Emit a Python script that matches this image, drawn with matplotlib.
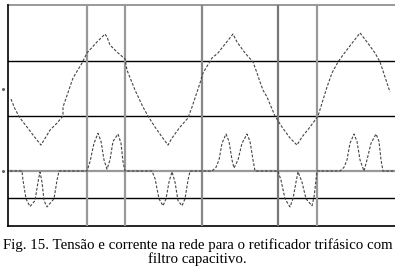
import matplotlib
matplotlib.use("Agg")
import matplotlib.pyplot as plt

# tensao na rede (V) - tempo em amostras
t_v = [3, 7, 12, 19, 25, 33, 42, 49, 55, 55, 65, 74, 79, 89, 97, 99, 102, 109, 117, 119,
       127, 135, 140, 147, 154, 160, 164, 172, 180, 184, 192, 195, 204, 210, 225, 229,
       237, 245, 249, 252, 255, 259, 267, 274, 282, 289, 294, 302, 310, 319, 324, 330,
       335, 345, 352, 359, 367, 372, 377, 382]
v = [-56, -111, -161, -211, -255, -311, -228, -189, -150, -100, 61, 144, 200, 261, 305,
     289, 244, 205, 167, 105, -6, -100, -150, -211, -266, -311, -272, -211, -161, -100,
     33, 89, 172, 200, 305, 261, 200, 150, 89, 39, -6, -44, -150, -211, -272, -311,
     -266, -211, -150, 11, 89, 150, 189, 261, 311, 261, 200, 150, 67, -17]

# corrente na rede (A)
t_i = [2, 14,
       15, 18, 22, 27, 30, 32, 34, 36, 39, 46, 49, 51, 54,
       70, 79,
       82, 86, 90, 93, 96, 99, 102, 105, 110, 113, 115, 117,
       144,
       147, 151, 155, 158, 161, 164, 167, 170, 174, 177, 180, 182,
       204,
       208, 211, 214, 218, 221, 224, 226, 230, 234, 239, 242, 245, 247,
       270,
       273, 277, 282, 285, 288, 290, 294, 298, 304, 306, 308, 309,
       332,
       336, 339, 342, 346, 349, 352, 356, 359, 363, 368, 371, 373, 375,
       387]
i = [0, 0,
     -2.5, -7.5, -9.6, -8, -3, -0.3, -3, -8, -9.7, -7.5, -2.5, 0, 0,
     0, 0,
     2.5, 7.5, 10.2, 8, 3, 0.5, 3, 8, 10, 7.5, 2.5, 0,
     0,
     -2, -7.5, -9.4, -7.5, -3, -0.2, -3, -8, -9.4, -7.5, -2.5, 0,
     0,
     1, 3, 7.5, 10, 8, 3, 0.8, 3, 7.5, 10, 8, 3, 0,
     0,
     -2.5, -7.5, -9.7, -7.5, -3, -0.2, -3, -7.5, -9.4, -7, -2.5, 0,
     0,
     1, 3, 7.5, 10, 8, 3, 0, 3, 7.5, 10, 8, 3, 0,
     0]

W, H = 395, 267
fig = plt.figure(figsize=(W / 100, H / 100), dpi=100)
rect = [8 / W, (H - 226) / H, 387 / W, 221 / H]

# grade (em pixels da tela do osciloscopio)
g = fig.add_axes(rect)
g.set_xlim(0, 387)
g.set_ylim(0, 221)
g.axis("off")
for y in [28, 110, 165]:
    g.axhline(y, color="black", lw=1.0)
g.axhline(0, color="black", lw=1.2, clip_on=False)
g.axhline(221, color="#999999", lw=1.4, clip_on=False)
g.axhline(55, color="#999999", lw=1.6)
g.axvline(0, color="black", lw=1.2, clip_on=False)
for x, c in [(79, "#999999"), (117, "#999999"), (194, "#888888"), (270, "#777777"), (309, "#999999")]:
    g.axvline(x, color=c, lw=1.6)
g.plot([-5, -5], [137, 55], ls="none", marker="o", ms=1.2, color="#666666", clip_on=False)

# tensao
av = fig.add_axes(rect)
av.set_xlim(0, 387)
av.set_ylim(-760, 466)
av.axis("off")
av.plot(t_v, v, color="#444444", lw=0.8, ls=(0, (2.5, 1.5)))

# corrente
ai = fig.add_axes(rect)
ai.set_xlim(0, 387)
ai.set_ylim(-14.86, 44.86)
ai.axis("off")
ai.plot(t_i, i, color="#444444", lw=0.8, ls=(0, (2.5, 1.5)))

fig.text(0.5, (H - 248.5) / H, "Fig. 15. Tensão e corrente na rede para o retificador trifásico com",
         ha="center", va="baseline", family="Liberation Serif", fontsize=10.7)
fig.text(0.5, (H - 263) / H, "filtro capacitivo.",
         ha="center", va="baseline", family="Liberation Serif", fontsize=10.7)

fig.savefig("out.png", dpi=100)
